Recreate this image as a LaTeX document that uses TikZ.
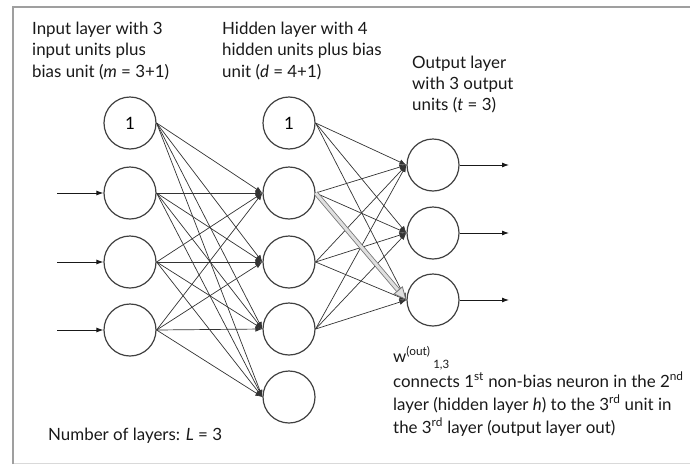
\documentclass[tikz,border=0pt]{standalone}
\usepackage{fontspec}
\setmainfont{Lato}
\usetikzlibrary{arrows.meta}
\begin{document}
\begin{tikzpicture}[x=1pt,y=-1pt,
  neuron/.style={circle, draw=black!75, line width=1.2pt, minimum size=52pt, inner sep=0pt, font=\fontsize{17}{18}\selectfont},
  link/.style={draw=black!80, line width=0.7pt, -{Latex[length=7pt,width=5.5pt]}},
  io/.style={draw=black!90, line width=0.9pt, -{Latex[length=7pt,width=5pt]}},
  hl/.style={draw=black!55, double=gray!25, double distance=3pt, line width=0.8pt, -{Triangle[open,length=13pt,width=12pt,fill=gray!25]}},
  lbl/.style={anchor=base west, inner sep=0pt, text=black!90, font=\fontsize{16.9}{18}\selectfont},
]
\useasboundingbox (0,0) rectangle (690,466);
% frame
\draw[gray!30, line width=1pt] (13,463) -- (690,463);
\draw[gray!75, line width=1.5pt] (13,464) -- (13,7) -- (690,7);

% input layer
\node[neuron] (i0) at (130,123) {1};
\node[neuron] (i1) at (130,193) {};
\node[neuron] (i2) at (130,262) {};
\node[neuron] (i3) at (130,330) {};
% hidden layer
\node[neuron] (h0) at (289,123) {1};
\node[neuron] (h1) at (289,193) {};
\node[neuron] (h2) at (289,262) {};
\node[neuron] (h3) at (289,329) {};
\node[neuron] (h4) at (289,397) {};
% output layer
\node[neuron] (o1) at (433,165) {};
\node[neuron] (o2) at (433,233) {};
\node[neuron] (o3) at (433,300) {};

% input arrows
\coordinate (a1) at (57,193);
\coordinate (a2) at (57,262);
\coordinate (a3) at (57,330);
\foreach \k in {1,2,3} \draw[io] (a\k) -- (i\k.west);
% output arrows
\coordinate (b1) at (509,165);
\coordinate (b2) at (509,233);
\coordinate (b3) at (509,300);
\foreach \k in {1,2,3} \draw[io] (o\k.east) -- (b\k);

% connections
\foreach \s in {i0,i1,i2,i3}
  \foreach \t in {h1,h2,h3,h4}
    \draw[link] (\s.east) -- (\t.west);
\foreach \s in {h0,h1,h2,h3}
  \foreach \t in {o1,o2,o3}
    \draw[link] (\s.east) -- (\t.west);

% highlighted weight
\draw[hl] (h1.east) -- (o3.west);

% labels
\node[lbl] (t1a) at (32,34) {Input layer with 3};
\node[lbl] (t1b) at (32,55.5) {input units plus};
\node[lbl] (t1c) at (32,77) {bias unit (\textit{m} = 3+1)};

\node[lbl] (t2a) at (222,34) {Hidden layer with 4};
\node[lbl] (t2b) at (222,55.5) {hidden units plus bias};
\node[lbl] (t2c) at (222,77) {unit (\textit{d} = 4+1)};

\node[lbl] (t3a) at (412,68) {Output layer};
\node[lbl] (t3b) at (412,89) {with 3 output};
\node[lbl] (t3c) at (412,110) {units (\textit{t} = 3)};

\node[lbl] (t4a) at (393,362) {w\textsuperscript{(out)}\,\raisebox{-6pt}{\fontsize{11.5}{12}\selectfont 1,3}};
\node[lbl] (t4b) at (393,387) {connects 1\textsuperscript{st} non-bias neuron in the 2\textsuperscript{nd}};
\node[lbl] (t4c) at (393,410) {layer (hidden layer \textit{h}) to the 3\textsuperscript{rd} unit in};
\node[lbl] (t4d) at (393,433) {the 3\textsuperscript{rd} layer (output layer out)};

\node[lbl] (t5) at (48,440) {Number of layers: \textit{L} = 3};
\end{tikzpicture}
\end{document}
